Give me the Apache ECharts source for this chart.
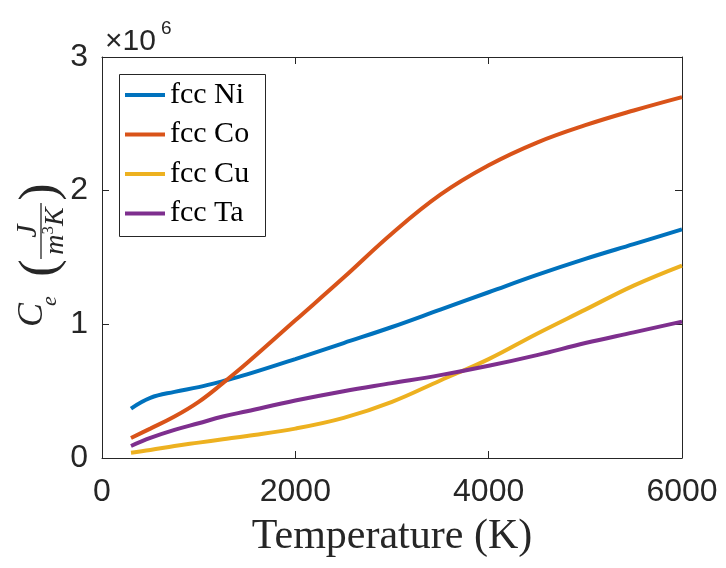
<!DOCTYPE html>
<html>
<head>
<meta charset="utf-8">
<script src="https://cdn.jsdelivr.net/npm/echarts@6/dist/echarts.min.js"></script>
<style>html,body{margin:0;padding:0;background:#fff;}#c{width:726px;height:568px;}</style>
</head>
<body>
<div id="c"></div>
<script>
// Temperature (K)
var temps = [300, 500, 750, 1000, 1250, 1500, 2000, 2500, 3000, 3500, 4000, 4500, 5000, 5500, 6000];
// Electronic heat capacity, units of 10^6 J/(m^3 K)
var ni = [0.37, 0.45, 0.495, 0.53, 0.575, 0.625, 0.74, 0.86, 0.98, 1.11, 1.24, 1.37, 1.49, 1.60, 1.71];
var co = [0.15, 0.22, 0.31, 0.42, 0.56, 0.71, 1.03, 1.35, 1.68, 1.97, 2.19, 2.36, 2.49, 2.60, 2.70];
var cu = [0.04, 0.06, 0.09, 0.115, 0.14, 0.165, 0.22, 0.30, 0.42, 0.58, 0.74, 0.93, 1.11, 1.29, 1.44];
var ta = [0.09, 0.15, 0.21, 0.26, 0.31, 0.35, 0.43, 0.50, 0.56, 0.62, 0.69, 0.77, 0.86, 0.94, 1.02];
var names = ['fcc Ni', 'fcc Co', 'fcc Cu', 'fcc Ta'];
var colors = ['#0072BD', '#D95319', '#EDB120', '#7E2F8E'];
var xTicks = [0, 2000, 4000, 6000];
var yTicks = [0, 1, 2, 3];

var chart = echarts.init(document.getElementById('c'), null, {renderer: 'canvas'});
var axCol = '#262626';
function pairs(arr) { return temps.map(function (t, i) { return [t, arr[i]]; }); }
var allData = [ni, co, cu, ta];
var series = allData.map(function (d, i) {
  return {
    name: names[i], type: 'line', data: pairs(d), showSymbol: false, smooth: 0.4,
    lineStyle: {width: 4, color: colors[i]}, itemStyle: {color: colors[i]}, z: 3
  };
});
var baseAxis = {
  type: 'value', splitLine: {show: false},
  axisLine: {show: true, onZero: false, lineStyle: {color: axCol, width: 1}},
  axisTick: {show: true, inside: true, length: 7, lineStyle: {color: axCol, width: 1}}
};
function mk(o) { return Object.assign({}, JSON.parse(JSON.stringify(baseAxis)), o); }
function fmt(v) { return String(v); }
var option = {
  animation: false,
  backgroundColor: '#fff',
  grid: {left: 102, right: 44, top: 57, bottom: 110},
  xAxis: [
    mk({min: xTicks[0], max: xTicks[xTicks.length - 1], interval: 2000, position: 'bottom',
      axisLabel: {fontSize: 32, color: axCol, fontFamily: 'Liberation Sans', margin: 18, formatter: fmt},
      name: 'Temperature (K)', nameLocation: 'middle', nameGap: 58,
      nameTextStyle: {fontFamily: 'Liberation Serif', fontSize: 42, color: axCol}}),
    mk({min: xTicks[0], max: xTicks[xTicks.length - 1], interval: 2000, position: 'top', axisLabel: {show: false}})
  ],
  yAxis: [
    mk({min: yTicks[0], max: yTicks[yTicks.length - 1], interval: 1, position: 'left',
      axisLabel: {fontSize: 32, color: axCol, fontFamily: 'Liberation Sans', margin: 14, formatter: fmt}}),
    mk({min: yTicks[0], max: yTicks[yTicks.length - 1], interval: 1, position: 'right', axisLabel: {show: false}})
  ],
  legend: {
    orient: 'vertical', left: 125, top: 80, padding: 0, itemGap: 9.5, z: 20,
    itemWidth: 40, itemHeight: 4, icon: 'rect',
    data: names,
    textStyle: {fontFamily: 'Liberation Serif', fontSize: 30, lineHeight: 30, color: '#000'}
  },
  graphic: [
    {type: 'rect', left: 119, top: 74, shape: {x: 0, y: 0, width: 146, height: 162},
      style: {fill: '#fff', stroke: axCol, lineWidth: 1}, z: 5, silent: true},
    {type: 'text', x: 105, y: 57, z: 10, style: {text: '\u00d710', font: '30px "Liberation Sans"', fill: axCol, textVerticalAlign: 'bottom'}},
    {type: 'text', x: 161, y: 38, z: 10, style: {text: '6', font: '19px "Liberation Sans"', fill: axCol, textVerticalAlign: 'bottom'}},
    {type: 'group', x: 41, y: 231, rotation: Math.PI / 2, z: 10, children: [
      {type: 'text', x: -84, y: -8, style: {text: 'C', font: 'italic 36px "Liberation Serif"', fill: axCol, textAlign: 'center', textVerticalAlign: 'middle'}},
      {type: 'text', x: -70, y: 9, style: {text: 'e', font: 'italic 22px "Liberation Serif"', fill: axCol, textAlign: 'center', textVerticalAlign: 'middle'}},
      {type: 'text', x: -37, y: 0, style: {text: '(', font: '52px "Liberation Serif"', fill: axCol, textAlign: 'center', textVerticalAlign: 'middle'}},
      {type: 'text', x: 39, y: 0, style: {text: ')', font: '52px "Liberation Serif"', fill: axCol, textAlign: 'center', textVerticalAlign: 'middle'}},
      {type: 'text', x: 0, y: -13, style: {text: 'J', font: 'italic 30px "Liberation Serif"', fill: axCol, textAlign: 'center', textVerticalAlign: 'middle'}},
      {type: 'line', shape: {x1: -28, y1: 0, x2: 28, y2: 0}, style: {stroke: axCol, lineWidth: 1.3}},
      {type: 'text', x: 0, y: 14, style: {
        text: '{a|m}{s|3}{a|K}', textAlign: 'center', textVerticalAlign: 'middle', fill: axCol,
        rich: {
          a: {fontFamily: 'Liberation Serif', fontStyle: 'italic', fontSize: 28, lineHeight: 30, verticalAlign: 'bottom', fill: axCol},
          s: {fontFamily: 'Liberation Serif', fontSize: 17, lineHeight: 30, verticalAlign: 'top', fill: axCol}
        }}}
    ]}
  ],
  series: series
};
chart.setOption(option);
</script>
</body>
</html>
